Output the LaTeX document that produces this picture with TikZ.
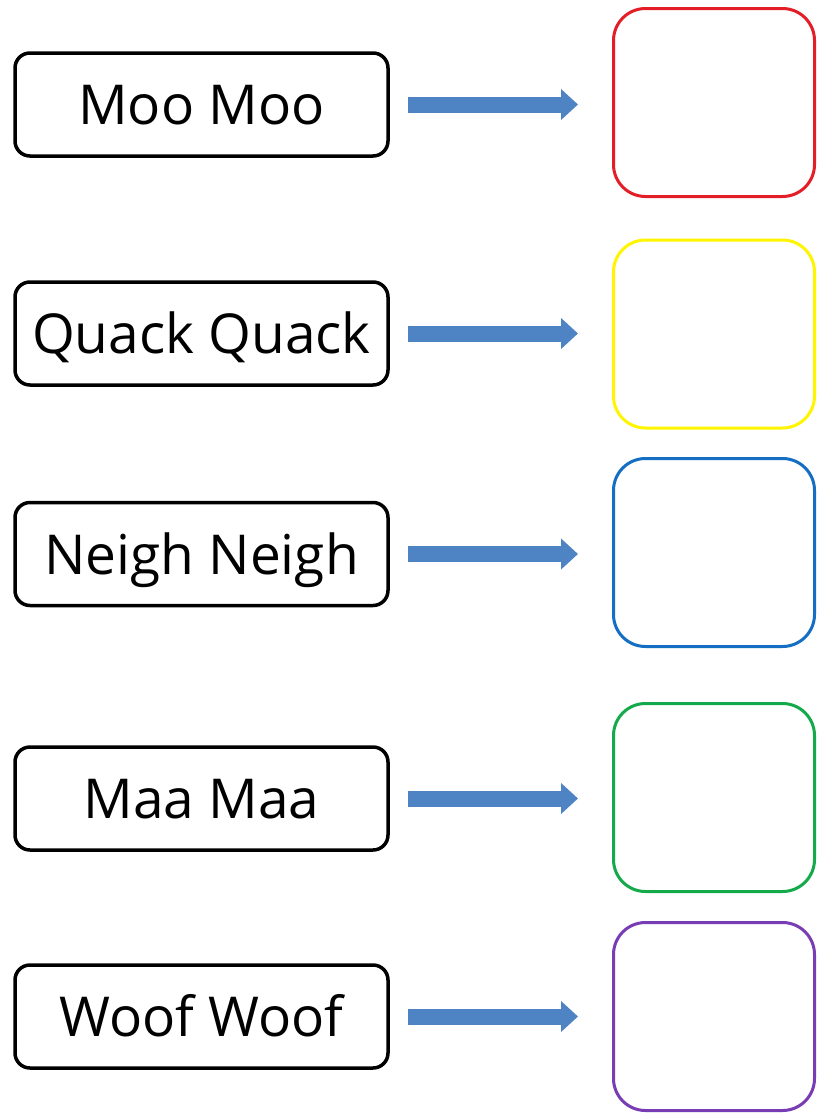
\documentclass[tikz,border=0pt]{standalone}
\usepackage{fontspec}
\setmainfont{Open Sans}
\usetikzlibrary{arrows.meta}
\definecolor{ansred}{RGB}{228,30,38}
\definecolor{ansyellow}{RGB}{255,245,0}
\definecolor{ansblue}{RGB}{20,110,195}
\definecolor{ansgreen}{RGB}{20,170,75}
\definecolor{anspurple}{RGB}{120,60,180}
\definecolor{arrowblue}{RGB}{79,132,196}
\tikzset{
  lbl/.style={draw=black, line width=3.5pt, rounded corners=15pt, fill=white,
    minimum width=373pt, minimum height=103pt, inner sep=0pt,
    font=\fontsize{55}{60}\selectfont, text height=40pt, text depth=0pt},
  ans/.style={line width=3pt, rounded corners=32pt, fill=white,
    minimum width=201pt, minimum height=188pt, inner sep=0pt},
  conn/.style={draw=arrowblue, line width=16pt,
    -{Triangle[length=17pt,width=30pt]}, shorten <=18pt, shorten >=34pt}
}
\begin{document}
\begin{tikzpicture}[x=1pt,y=-1pt]
\useasboundingbox[fill=white] (0,0) rectangle (818,1114);
\node[lbl] (l1) at (201.5,104.5) {Moo Moo};
\node[lbl] (l2) at (201.5,333.5) {Quack Quack};
\node[lbl] (l3) at (201.5,554) {Neigh Neigh};
\node[lbl] (l4) at (201.5,798.5) {Maa Maa};
\node[lbl] (l5) at (201.5,1016.5) {Woof Woof};
\node[ans, draw=ansred] (r1) at (714,102.5) {};
\node[ans, draw=ansyellow] (r2) at (714,334) {};
\node[ans, draw=ansblue] (r3) at (714,552.5) {};
\node[ans, draw=ansgreen] (r4) at (714,797.5) {};
\node[ans, draw=anspurple] (r5) at (714,1016.5) {};
\foreach \i in {1,...,5}{
  \draw[conn] (l\i.east) -- (l\i.east -| r\i.west);
}
\end{tikzpicture}
\end{document}
